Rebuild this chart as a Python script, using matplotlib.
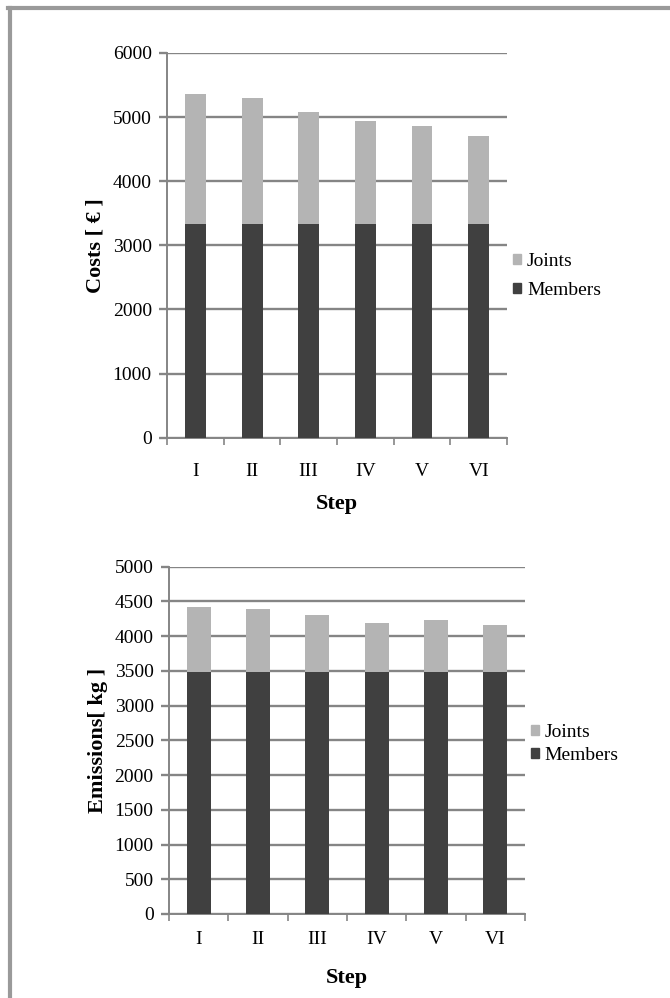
import matplotlib
matplotlib.use('Agg')
import matplotlib.pyplot as plt
from matplotlib.patches import Patch
from matplotlib.lines import Line2D
import numpy as np

plt.rcParams['font.family'] = ['Liberation Serif', 'DejaVu Serif']

steps = ['I', 'II', 'III', 'IV', 'V', 'VI']

cost_members = [3330, 3330, 3330, 3330, 3330, 3330]
cost_total = [5355, 5295, 5085, 4945, 4865, 4705]
cost_joints = [t - m for t, m in zip(cost_total, cost_members)]

emis_members = [3480, 3480, 3480, 3480, 3480, 3480]
emis_total = [4415, 4390, 4305, 4185, 4225, 4155]
emis_joints = [t - m for t, m in zip(emis_total, emis_members)]

DARK = '#404040'
LIGHT = '#b4b4b4'
GRID = '#858585'


def stacked(ax, members, joints, ymax, ystep, width, ylabel, legend_pos,
            xpad, steppad, legspace):
    x = np.arange(len(steps))
    ax.bar(x, members, width, color=DARK, zorder=3)
    ax.bar(x, joints, width, bottom=members, color=LIGHT, zorder=3)
    ax.set_xlim(-0.5, len(steps) - 0.5)
    ax.set_ylim(0, ymax)
    ax.set_yticks(np.arange(0, ymax + 1, ystep))
    ax.yaxis.grid(True, color=GRID, lw=1.7, zorder=1)
    ax.set_xticks(x)
    ax.set_xticklabels(steps)
    # category boundary ticks like excel
    ax.set_xticks(np.arange(-0.5, len(steps)), minor=True)
    ax.tick_params(axis='x', which='major', length=0, pad=xpad, labelsize=14)
    ax.tick_params(axis='x', which='minor', length=5, color=GRID, width=1.2)
    ax.tick_params(axis='y', length=6, color=GRID, width=1.7, pad=5, labelsize=14)
    for s in ['top', 'right']:
        ax.spines[s].set_visible(False)
    for s in ['left', 'bottom']:
        ax.spines[s].set_color(GRID)
        ax.spines[s].set_linewidth(1.4)
    ax.set_xlabel('Step', fontsize=16, fontweight='bold', labelpad=steppad)
    ax.set_ylabel(ylabel, fontsize=16, fontweight='bold', labelpad=5)
    handles = [Patch(color=LIGHT, label='Joints'), Patch(color=DARK, label='Members')]
    ax.legend(handles=handles, loc='center left', bbox_to_anchor=legend_pos,
              frameon=False, fontsize=14, handlelength=0.4, handleheight=0.4,
              handletextpad=0.3, labelspacing=legspace, borderpad=0)


fig = plt.figure(figsize=(6.7, 9.98), dpi=100)

ax1 = fig.add_axes([0.2493, 0.5614, 0.5074, 0.3855])
stacked(ax1, cost_members, cost_joints, 6000, 1000, 0.37, 'Costs [ € ]',
        (0.99, 0.42), 18, 10, 0.6)

ax2 = fig.add_axes([0.2522, 0.0842, 0.5314, 0.3480])
stacked(ax2, emis_members, emis_joints, 5000, 500, 0.40, 'Emissions[ kg ]',
        (0.99, 0.49), 12, 15, 0.3)

# outer frame (top and left edges visible)
fig.add_artist(Line2D([0.012, 1.0], [0.9915, 0.9915], color='#9a9a9a', lw=3,
                      transform=fig.transFigure))
fig.add_artist(Line2D([0.0149, 0.0149], [0.0, 0.9915], color='#9a9a9a', lw=3,
                      transform=fig.transFigure))

fig.savefig('out.png', dpi=100)
